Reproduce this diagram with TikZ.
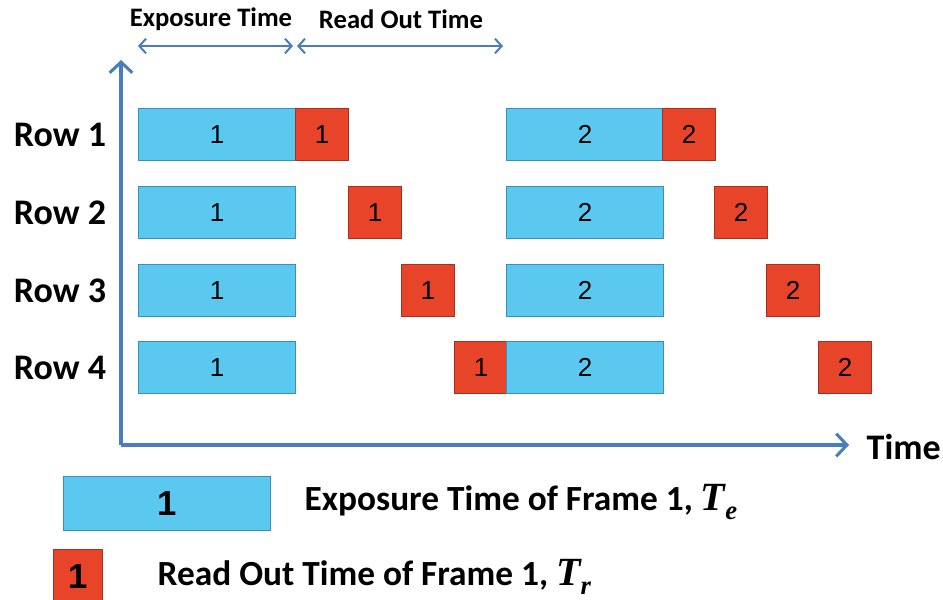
\documentclass[tikz,border=0pt]{standalone}
\usepackage{fontspec}
\setmainfont{Carlito}
\newfontfamily\numfont{Liberation Sans}
\newfontfamily\symfont{Liberation Serif}
\usepackage{tikz}
\usepackage{xcolor}
\usetikzlibrary{arrows.meta}

\definecolor{expfill}{HTML}{5BC8EF}
\definecolor{expline}{HTML}{3A8EBA}
\definecolor{readfill}{HTML}{E8442A}
\definecolor{readline}{HTML}{A8301E}
\definecolor{axisblue}{HTML}{4A7EBB}

% time symbol with subscript, e.g. T_e
\newcommand{\tsym}[1]{{\symfont\bfseries\itshape\fontsize{30}{30}\selectfont T\raisebox{-7pt}{\fontsize{20}{20}\selectfont #1}}}

\tikzset{
  expbox/.style={draw=expline, fill=expfill, line width=1pt, anchor=north west,
    minimum width=117.75pt, minimum height=39pt, inner sep=0pt,
    font=\numfont\fontsize{19.5}{19.5}\selectfont},
  readbox/.style={draw=readline, fill=readfill, line width=1pt, anchor=north west,
    minimum width=39.5pt, minimum height=39pt, inner sep=0pt,
    font=\numfont\fontsize{19.5}{19.5}\selectfont},
  rowlabel/.style={font=\bfseries\fontsize{27}{27}\selectfont},
  toplabel/.style={font=\bfseries\fontsize{20}{20}\selectfont},
  legendtext/.style={anchor=west, font=\bfseries\fontsize{26.5}{26.5}\selectfont},
  axis/.style={draw=axisblue, line width=2.3pt, -{Straight Barb[length=8pt,width=17pt,line width=2.3pt]}},
  span/.style={draw=axisblue, line width=1.5pt, {Straight Barb[length=5pt,width=11pt]}-{Straight Barb[length=5pt,width=11pt]}}
}

\begin{document}
\begin{tikzpicture}[x=0.75pt,y=-0.75pt]
\useasboundingbox (0,0) rectangle (943,600);

% Axes
\coordinate (origin) at (121,445);
\coordinate (ytip) at (121,60);
\coordinate (xtip) at (849,445);
\draw[axis] (origin) -- (ytip);
\draw[axis] (origin) -- (xtip);
\node[anchor=west, rowlabel] (timelabel) at (862,447) {Time};

% Time spans on top
\coordinate (es) at (138,46);
\coordinate (ee) at (293,46);
\coordinate (rs) at (297,46);
\coordinate (re) at (503,46);
\draw[span] (es) -- (ee);
\draw[span] (rs) -- (re);
\node[toplabel] (explabel) at (211,19) {Exposure Time};
\node[toplabel] (readlabel) at (401,19) {Read Out Time};

% Rows of frame 1 and frame 2
\foreach \r/\y in {1/108,2/186,3/264,4/341} {
  \node[rowlabel] (row\r) at (60,\y+27) {Row \r};
  \node[expbox] (expa\r) at (138,\y) {1};
  \node[readbox] (reada\r) at (295+53*\r-53,\y) {1};
  \node[expbox] (expb\r) at (506,\y) {2};
  \node[readbox] (readb\r) at (662+52*\r-52,\y) {2};
}

% Legend
\node[expbox, minimum width=155.25pt, minimum height=40.5pt,
  font=\numfont\bfseries\fontsize{26}{26}\selectfont] (legexp) at (63,476) {1};
\node[legendtext] (legexptext) at (300,502) {Exposure Time of Frame 1, \tsym{e}};
\node[readbox, minimum width=36.75pt, minimum height=40pt,
  font=\numfont\bfseries\fontsize{26}{26}\selectfont] (legread) at (53,549) {1};
\node[legendtext] (legreadtext) at (153,577) {Read Out Time of Frame 1, \tsym{r}};
\end{tikzpicture}
\end{document}
